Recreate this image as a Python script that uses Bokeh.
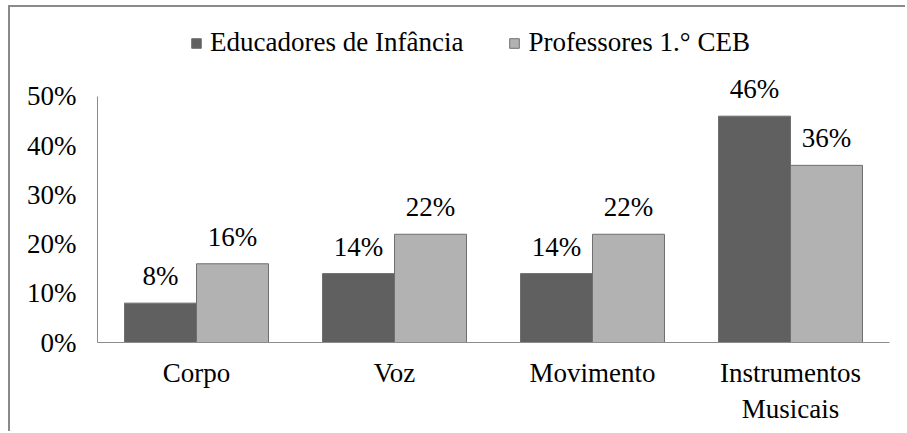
from bokeh.plotting import figure
from bokeh.models import (ColumnDataSource, FactorRange, Range1d, LabelSet, Legend,
                          LegendItem, PrintfTickFormatter, FixedTicker)
from bokeh.transform import dodge
from bokeh.embed import file_html
from bokeh.resources import INLINE

categories = ["Corpo", "Voz", "Movimento", "Instrumentos\nMusicais"]
educadores = [8, 14, 14, 46]
professores = [16, 22, 22, 36]
series_names = ["Educadores de Infância", "Professores 1.° CEB"]
y_ticks = [0, 10, 20, 30, 40, 50]

FONT = "Liberation Serif"
FS = "27px"
DARK = "#606060"
LIGHT = "#b2b2b2"
EDGE = "#6f6f6f"
AXIS = "#8c8c8c"

src = ColumnDataSource(dict(
    cat=categories,
    edu=educadores,
    prof=professores,
    edu_lbl=[f"{v}%" for v in educadores],
    prof_lbl=[f"{v}%" for v in professores],
))

p = figure(width=897, height=426,
           x_range=FactorRange(*categories, range_padding=0),
           y_range=Range1d(0, 66.46),
           output_backend="svg", toolbar_location=None,
           min_border_left=87, min_border_right=18,
           min_border_top=8, min_border_bottom=91)

W = 0.3636
r1 = p.vbar(x=dodge("cat", -W / 2, range=p.x_range), top="edu", width=W, source=src,
            fill_color=DARK, line_color=EDGE, line_width=1)
r2 = p.vbar(x=dodge("cat", W / 2, range=p.x_range), top="prof", width=W, source=src,
            fill_color=LIGHT, line_color=EDGE, line_width=1)

for xcol, ycol, lcol, off in [("cat", "edu", "edu_lbl", -W / 2), ("cat", "prof", "prof_lbl", W / 2)]:
    p.add_layout(LabelSet(x=dodge(xcol, off, range=p.x_range), y=ycol, text=lcol, source=src,
                          y_offset=18, text_align="center", text_baseline="alphabetic",
                          text_font=FONT, text_font_size=FS, text_color="#000000"))

legend = Legend(items=[LegendItem(label=series_names[0], renderers=[r1]),
                       LegendItem(label=series_names[1], renderers=[r2])],
                location=(93, 284), orientation="horizontal",
                glyph_width=12, glyph_height=12, label_standoff=8, spacing=45,
                padding=0, margin=0, border_line_color=None, background_fill_alpha=0,
                label_text_font=FONT, label_text_font_size=FS, label_text_color="#000000")
p.add_layout(legend)

p.xgrid.grid_line_color = None
p.ygrid.grid_line_color = None
p.outline_line_color = None

p.yaxis.ticker = FixedTicker(ticks=y_ticks)
p.yaxis.bounds = (0, 50)
p.yaxis.formatter = PrintfTickFormatter(format="%d%%")
for ax in (p.xaxis[0], p.yaxis[0]):
    ax.axis_line_color = AXIS
    ax.axis_line_width = 1
    ax.major_tick_line_color = None
    ax.minor_tick_line_color = None
    ax.major_tick_out = 0
    ax.major_tick_in = 0
    ax.major_label_text_font = FONT
    ax.major_label_text_font_size = FS
    ax.major_label_text_color = "#000000"
p.yaxis.major_label_standoff = 21
p.xaxis.major_label_standoff = 15

p.styles = {"border-left": "2px solid #8a8a8a", "border-top": "2px solid #8a8a8a",
            "margin-left": "8px", "margin-top": "5px"}

open("out.html", "w").write(file_html(p, INLINE))
